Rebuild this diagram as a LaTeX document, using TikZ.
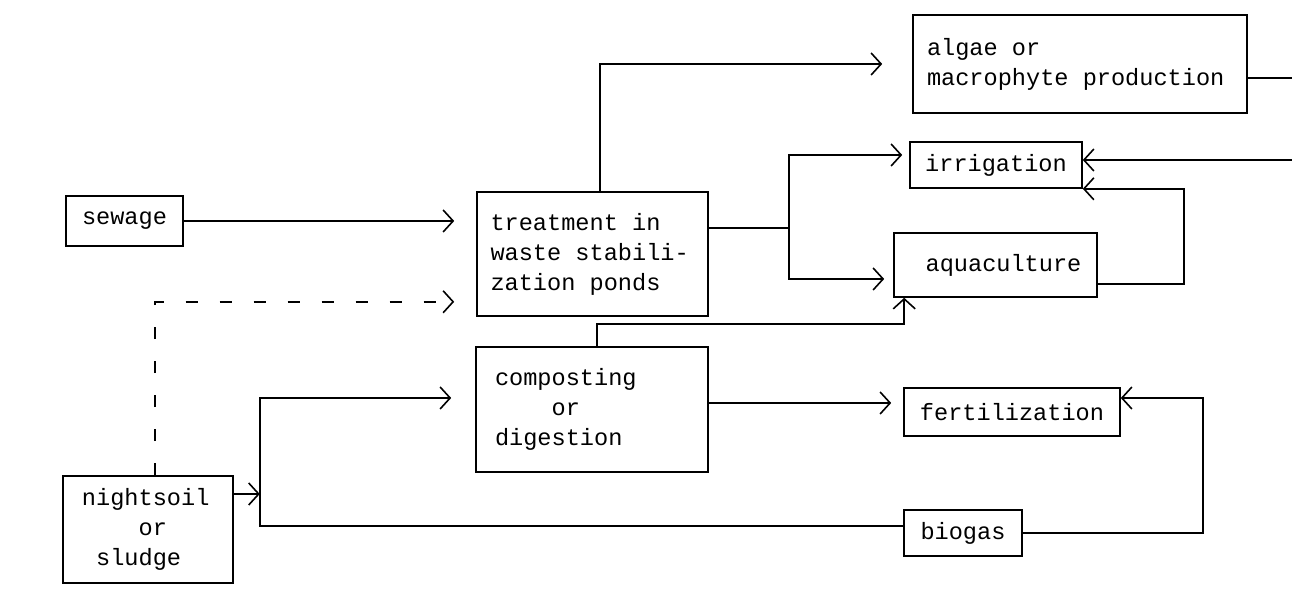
\documentclass[tikz,border=0pt]{standalone}
\usepackage{fontspec}
\setmonofont{Liberation Mono}
\usetikzlibrary{arrows.meta}
\newcommand{\boxfont}{\ttfamily\fontsize{11.8}{15}\selectfont}

\begin{document}
\begin{tikzpicture}[x=0.5pt, y=-0.5pt, line width=0.8pt, font=\boxfont,
  >={Straight Barb[length=5pt,width=11pt]},
  box/.style={draw, inner sep=0pt, align=flush center},
  leftbox/.style={box, align=flush left}]
\useasboundingbox (0,0) rectangle (1292,592);

% boxes
\node[box, minimum width=58.5pt, minimum height=25pt] (sewage) at (124.5,221) {sewage};
\node[leftbox, text width=102pt, minimum width=115.5pt, minimum height=62pt] (treat) at (592.5,254)
      {treatment in\\waste stabili-\\zation ponds};
\node[leftbox, text width=153pt, minimum width=167pt, minimum height=49pt] (algae) at (1080,64)
      {algae or\\macrophyte production};
\node[box, minimum width=86pt, minimum height=23pt] (irrig) at (996,165) {irrigation};
\node[box, minimum width=101.5pt, minimum height=32pt] (aqua) at (995.5,265) {\hspace{8pt}aquaculture};
\node[leftbox, text width=97pt, minimum width=116pt, minimum height=62.5pt] (compost) at (592,409.5)
      {composting\\\hphantom{xxxx}or\\digestion};
\node[box, minimum width=108pt, minimum height=24pt] (fert) at (1012,412) {fertilization};
\node[box, minimum width=59pt, minimum height=23pt] (biogas) at (963,533) {biogas};
\node[leftbox, text width=66pt, minimum width=85pt, minimum height=53.5pt] (night) at (148,529.5)
      {nightsoil\\\hphantom{xxxx}or\\\hphantom{x}sludge};

% free ends at the right edge
\coordinate (inflow) at (1292,160);
\coordinate (outflow) at (1292,78);
% branch points
\coordinate (tsplit) at ([xshift=40pt,yshift=13pt]treat.east);
\coordinate (nsplit) at ([xshift=13pt,yshift=17.75pt]night.east);

% connectors
\draw[->, shorten >=11pt] (sewage.east) -- (sewage.east -| treat.west);
\draw[->, dash pattern=on 6pt off 11pt, shorten >=11pt] ([xshift=3.5pt]night.north) |- ([yshift=7.5pt]treat.south west);
\draw[->, shorten >=15pt] ([xshift=3.75pt]treat.north) |- (algae.west);
\draw ([yshift=13pt]treat.east) -- (tsplit);
\draw[->, shorten >=3.5pt] (tsplit) |- ([yshift=5pt]irrig.west);
\draw[->, shorten >=4.5pt] (tsplit) |- ([yshift=-7pt]aqua.west);
\draw[->] ([xshift=2.5pt]compost.north) -- ++(0,11pt) -| ([xshift=5.5pt]aqua.south west);
\draw[->, shorten >=6pt] ([yshift=3.25pt]compost.east) -- ([yshift=3.25pt]compost.east -| fert.west);
\draw[->] ([yshift=17.75pt]night.east) -- (nsplit);
\draw[->, shorten >=12pt] (nsplit) |- ([yshift=5.75pt]compost.west);
\draw (nsplit) |- ([yshift=3.5pt]biogas.west);
\draw[->] (biogas.east) -- ++(90pt,0) |- ([yshift=7pt]fert.east);
\draw[->] ([yshift=-9.5pt]aqua.east) -- ++(43pt,0) |- (irrig.south east);
\draw[->] (inflow) -- (inflow -| irrig.east);
\draw ([yshift=-7pt]algae.east) -- (outflow);
\end{tikzpicture}
\end{document}
